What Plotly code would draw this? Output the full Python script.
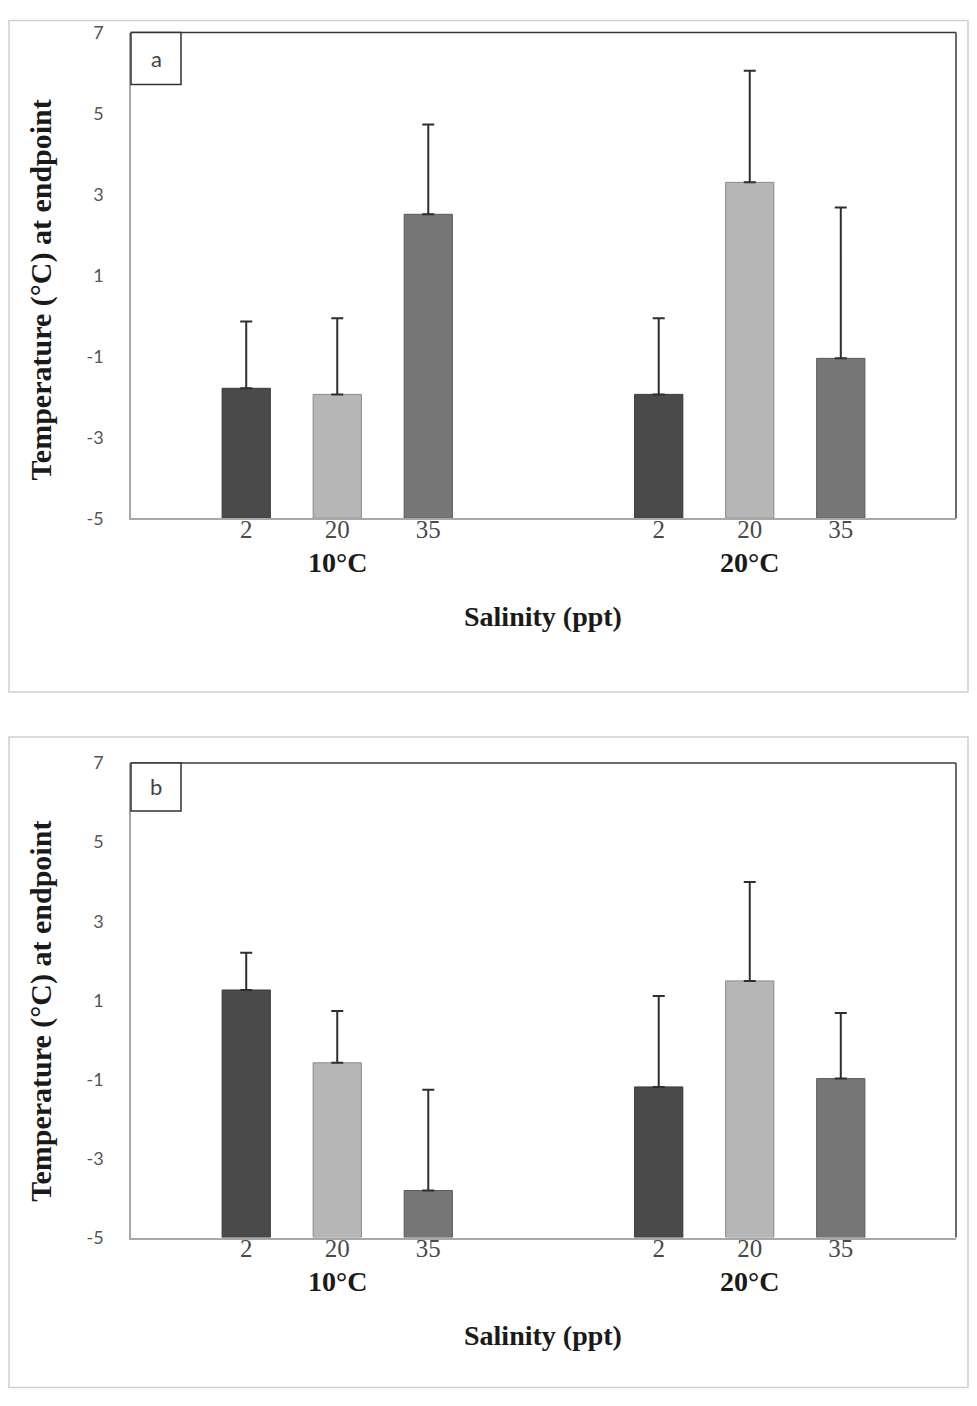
import plotly.graph_objects as go

# ---- data ----
groups = ["10°C", "20°C"]
salinities = ["2", "20", "35"]
# panel a: mean temperature at endpoint and upward error (length of whisker)
a_sal2 = [-1.79, -1.94]
a_sal20 = [-1.94, 3.30]
a_sal35 = [2.51, -1.05]
a_err2 = [1.65, 1.88]
a_err20 = [1.88, 2.76]
a_err35 = [2.22, 3.73]
# panel b
b_sal2 = [1.26, -1.19]
b_sal20 = [-0.58, 1.49]
b_sal35 = [-3.81, -0.98]
b_err2 = [0.94, 2.30]
b_err20 = [1.31, 2.50]
b_err35 = [2.55, 1.66]

y_ticks = [-5, -3, -1, 1, 3, 5, 7]
y_ticktext = ["-5", "-3", "-1", "1", "3", "5", "7"]
colors = ["#4a4a4a", "#b6b6b6", "#767676"]
border = ["#3a3a3a", "#8a8a8a", "#5a5a5a"]

# page is 977x1406; the html body has an 8px margin
PAGE_MARGIN = 8
W, H = 977 - 2 * PAGE_MARGIN, 1406 - 2 * PAGE_MARGIN
# vertical correction measured from the rendered picture
Y_OFF, Y_SCALE = 11.5, 0.985


def fx(px):
    return (px - PAGE_MARGIN) / W


def fy(py):
    page_y = (py - Y_OFF) / Y_SCALE
    v = 1 - (page_y - PAGE_MARGIN) / H
    return min(max(v, 0.6 / H), 1 - 0.6 / H)


BARGAP = 0.338
slot = (1 - BARGAP) / 3

fig = go.Figure()

panels = [
    ("x", "y", [a_sal2, a_sal20, a_sal35], [a_err2, a_err20, a_err35]),
    ("x2", "y2", [b_sal2, b_sal20, b_sal35], [b_err2, b_err20, b_err35]),
]
gx = list(range(len(groups)))
for xa, ya, vals, errs in panels:
    for k, (v, e) in enumerate(zip(vals, errs)):
        fig.add_trace(go.Bar(
            x=gx, y=[val + 5 for val in v], base=-5,
            xaxis=xa, yaxis=ya,
            name=salinities[k], offsetgroup=str(k),
            marker=dict(color=colors[k], line=dict(color=border[k], width=1)),
            error_y=dict(type="data", array=e, arrayminus=[0] * len(e),
                         symmetric=False, color="#2e2e2e", thickness=2, width=6),
            showlegend=False,
        ))

tickpos = [g + (k - 1) * slot for g in gx for k in range(3)]
ticktxt = [s for g in gx for s in salinities]

xdom = [fx(131), fx(956)]
ydom_a = [fy(518), fy(32)]
ydom_b = [fy(1238), fy(763)]

xcommon = dict(range=[-0.5, 1.5], domain=xdom, showgrid=False, zeroline=False,
               showline=True, linecolor="#a8a8a8", linewidth=1.5,
               tickvals=tickpos, ticktext=ticktxt, ticks="",
               tickfont=dict(family="Liberation Serif", size=25, color="#4a4a4a"),
               ticklabelstandoff=-12)
ycommon = dict(range=[-5, 7], showgrid=False, zeroline=False,
               showline=True, linecolor="#a8a8a8", linewidth=1.5,
               tickvals=y_ticks, ticktext=y_ticktext, ticks="",
               tickfont=dict(family="Lato", size=18, color="#555555"),
               ticklabelstandoff=22)

fig.update_layout(
    width=W, height=H, margin=dict(l=0, r=0, t=0, b=0),
    paper_bgcolor="white", plot_bgcolor="white",
    barmode="group", bargap=BARGAP, bargroupgap=0.47,
    xaxis=dict(anchor="y", **xcommon),
    yaxis=dict(anchor="x", domain=ydom_a, **ycommon),
    xaxis2=dict(anchor="y2", **xcommon),
    yaxis2=dict(anchor="x2", domain=ydom_b, **ycommon),
)

shapes = []
annotations = []
# (label, axes, outer frame top/bottom, plot top, label-box bottom, group label y, x-title y, y-title centre)
for (xa, ya, label, outer, ptop, boxbot, gy, ty, yty) in [
    ("x", "y", "a", (5, 692), 32, 84, 562, 616, 290),
    ("x2", "y2", "b", (737, 1404), 763, 811, 1282, 1336, 1012),
]:
    # outer panel frame
    shapes.append(dict(type="rect", xref="paper", yref="paper",
                       x0=fx(9), x1=fx(968), y0=fy(outer[1]), y1=fy(outer[0]),
                       line=dict(color="#cfcfcf", width=1.5), layer="below"))
    # dark top and right frame lines
    shapes.append(dict(type="line", xref=xa + " domain", yref=ya + " domain",
                       x0=0, x1=1, y0=1, y1=1, line=dict(color="#3a3a3a", width=1.5)))
    shapes.append(dict(type="line", xref=xa + " domain", yref=ya + " domain",
                       x0=1, x1=1, y0=0, y1=1, line=dict(color="#3a3a3a", width=1.5)))
    # label box
    shapes.append(dict(type="rect", xref="paper", yref="paper",
                       x0=fx(131), x1=fx(181), y0=fy(boxbot), y1=fy(ptop), fillcolor="white",
                       line=dict(color="#333333", width=1.5)))
    annotations.append(dict(xref="paper", yref="paper",
                            x=fx(156), y=fy((ptop + boxbot) / 2),
                            xanchor="center", yanchor="middle",
                            text=label, showarrow=False,
                            font=dict(family="Lato", size=22, color="#444444")))
    # group labels
    for g, name in zip(gx, groups):
        annotations.append(dict(xref=xa, yref="paper", x=g, y=fy(gy),
                                xanchor="center", yanchor="middle",
                                text="<b>" + name + "</b>", showarrow=False,
                                font=dict(family="Liberation Serif", size=28, color="#1a1a1a")))
    # x title
    annotations.append(dict(xref="paper", yref="paper", x=fx(543), y=fy(ty),
                            xanchor="center", yanchor="middle",
                            text="<b>Salinity (ppt)</b>", showarrow=False,
                            font=dict(family="Liberation Serif", size=28, color="#1a1a1a")))
    # y title
    annotations.append(dict(xref="paper", yref="paper", x=fx(41), y=fy(yty),
                            xanchor="center", yanchor="middle",
                            text="<b>Temperature (°C) at endpoint</b>", showarrow=False,
                            textangle=-90,
                            font=dict(family="Liberation Serif", size=30, color="#1a1a1a")))

fig.update_layout(shapes=shapes, annotations=annotations)
fig.write_html("out.html", config={"displayModeBar": False})
